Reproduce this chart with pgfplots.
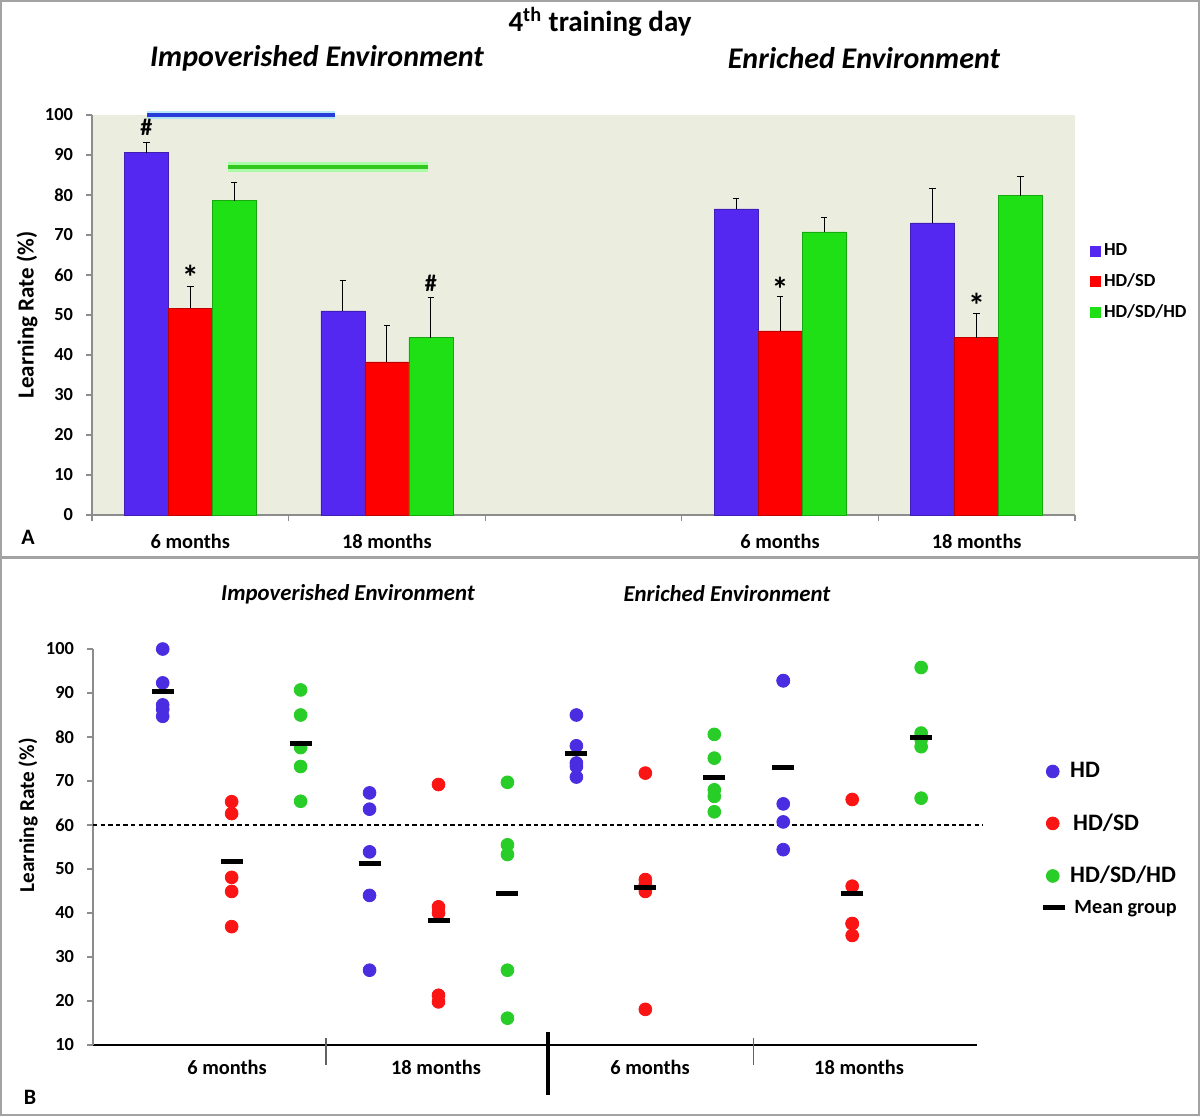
\documentclass[border=0pt]{standalone}
\usepackage{pgfplots}
\pgfplotsset{compat=1.18}
\usepackage{fontspec}
\setmainfont{Carlito}
\definecolor{hdb}{RGB}{84,40,240}
\definecolor{hdr}{RGB}{255,0,0}
\definecolor{hdg}{RGB}{30,224,20}
\definecolor{bgb}{RGB}{235,237,223}
\definecolor{dotb}{RGB}{75,45,225}
\definecolor{dotr}{RGB}{250,20,20}
\definecolor{dotg}{RGB}{40,205,40}
\definecolor{axg}{RGB}{140,140,140}
\definecolor{sigb}{RGB}{40,60,215}
\definecolor{sigg}{RGB}{50,200,30}
\begin{document}
\begin{tikzpicture}
% frames
\draw[axg!80, line width=0.8pt] (0.4pt,0.4pt) rectangle (599.6pt,557.6pt);
\draw[axg!80, line width=1.2pt] (0pt,279.3pt) -- (600pt,279.3pt);

% ---------------- Panel A ----------------
\begin{axis}[
  at={(46pt,300.5pt)}, anchor=south west, scale only axis,
  width=491.5pt, height=200pt,
  /pgf/number format/assume math mode=true,
  xmin=-0.5, xmax=4.5, ymin=0, ymax=100,
  axis lines=left, axis line style={-, axg, line width=0.6pt},
  axis background/.style={fill=bgb},
  ytick={0,10,...,100},
  xtick={-0.5,0.5,1.5,2.5,3.5,4.5}, xticklabels={},
  extra x ticks={0,1,3,4},
  extra x tick labels={6 months,18 months,6 months,18 months},
  extra x tick style={major tick length=0pt, xticklabel style={anchor=center, yshift=-13pt}},
  tick align=outside, major tick length=3pt, tick style={axg, line width=0.6pt},
  yticklabel style={font=\bfseries\fontsize{9.2}{10}\selectfont, xshift=-3pt},
  xticklabel style={font=\bfseries\fontsize{10.2}{12}\selectfont},
  ylabel={Learning Rate (\%)},
  ylabel style={font=\bfseries\fontsize{11.5}{13}\selectfont, at={(axis description cs:-0.066,0.5)}, anchor=center},
  clip=false,
  legend style={at={(1.0153,0.5825)}, anchor=west, draw=none, fill=none,
    font=\bfseries\fontsize{9.2}{11}\selectfont, row sep=4.6pt, inner sep=0pt,
    nodes={inner sep=1.5pt}},
  legend cell align=left,
]
\addplot[ybar, bar width=22pt, bar shift=0pt, fill=hdb, draw=hdb!75!black, line width=0.3pt,
  legend image code/.code={\fill[hdb] (0pt,-2.5pt) rectangle (5pt,2.5pt);},
  error bars/.cd, y dir=plus, y explicit,
  error bar style={black, line width=0.5pt},
  error mark options={rotate=90, mark size=1.6pt, black, line width=0.5pt}]
  coordinates {(-0.2238,90.6) +- (0,2.6) (0.7762,51.0) +- (0,7.6) (2.7762,76.5) +- (0,2.5) (3.7762,73.0) +- (0,8.5)};
\addlegendentry{HD}
\addplot[ybar, bar width=22pt, bar shift=0pt, fill=hdr, draw=hdr!75!black, line width=0.3pt,
  legend image code/.code={\fill[hdr] (0pt,-2.5pt) rectangle (5pt,2.5pt);},
  error bars/.cd, y dir=plus, y explicit,
  error bar style={black, line width=0.5pt},
  error mark options={rotate=90, mark size=1.6pt, black, line width=0.5pt}]
  coordinates {(0,51.7) +- (0,5.5) (1,38.25) +- (0,9.0) (3,46.0) +- (0,8.6) (4,44.3) +- (0,6.0)};
\addlegendentry{HD/SD}
\addplot[ybar, bar width=22pt, bar shift=0pt, fill=hdg, draw=hdg!75!black, line width=0.3pt,
  legend image code/.code={\fill[hdg] (0pt,-2.5pt) rectangle (5pt,2.5pt);},
  error bars/.cd, y dir=plus, y explicit,
  error bar style={black, line width=0.5pt},
  error mark options={rotate=90, mark size=1.6pt, black, line width=0.5pt}]
  coordinates {(0.2238,78.6) +- (0,4.6) (1.2238,44.3) +- (0,10.0) (3.2238,70.75) +- (0,3.5) (4.2238,79.8) +- (0,4.7)};
\addlegendentry{HD/SD/HD}
% significance lines
\addplot[forget plot, line width=4pt, cyan!35, opacity=0.8] coordinates {(-0.222,100) (0.736,100)};
\addplot[forget plot, line width=1.8pt, sigb] coordinates {(-0.222,100) (0.736,100)};
\addplot[forget plot, line width=5pt, green!40, opacity=0.8] coordinates {(0.192,86.9) (1.209,86.9)};
\addplot[forget plot, line width=2pt, sigg] coordinates {(0.192,86.9) (1.209,86.9)};
% annotations
\node[font=\bfseries\fontsize{12}{12}\selectfont] at (axis cs:-0.224,96.8) {\#};
\node[font=\bfseries\fontsize{17}{17}\selectfont] at (axis cs:0,59.5) {*};
\node[font=\bfseries\fontsize{12}{12}\selectfont] at (axis cs:1.224,58) {\#};
\node[font=\bfseries\fontsize{17}{17}\selectfont] at (axis cs:3,56.5) {*};
\node[font=\bfseries\fontsize{17}{17}\selectfont] at (axis cs:4,52.3) {*};
\end{axis}

% ---------------- Panel B ----------------
\begin{axis}[
  at={(46.5pt,35.5pt)}, anchor=south west, scale only axis,
  width=442pt, height=198pt,
  /pgf/number format/assume math mode=true,
  xmin=-1.011, xmax=11.81, ymin=10, ymax=100,
  axis lines=left,
  x axis line style={-, black, line width=0.6pt},
  y axis line style={-, axg, line width=0.6pt},
  ytick={10,20,...,100},
  xtick={0.933,3.964,7.068,10.1},
  xticklabels={6 months,18 months,6 months,18 months},
  x tick style={draw=none},
  y tick style={axg, line width=0.6pt},
  tick align=outside, major tick length=3pt,
  yticklabel style={font=\bfseries\fontsize{9.2}{10}\selectfont, xshift=-3pt},
  xticklabel style={font=\bfseries\fontsize{10.2}{12}\selectfont, anchor=center, yshift=-8pt},
  ylabel={Learning Rate (\%)},
  ylabel style={font=\bfseries\fontsize{10.6}{12}\selectfont, at={(axis description cs:-0.0735,0.58)}, anchor=center},
  clip=false,
  legend style={at={(1.078,0.558)}, anchor=west, draw=none, fill=none,
    font=\bfseries\fontsize{11.8}{13}\selectfont, row sep=13.5pt, inner sep=0pt,
    nodes={inner sep=1.5pt}},
  legend cell align=left,
]
\addplot[forget plot, black, line width=0.6pt, dash pattern=on 2.2pt off 1.6pt] coordinates {(-1.011,60) (11.9,60)};
\addplot[forget plot, axg!70!black, line width=0.6pt] coordinates {(2.369,11.6) (2.369,5.4)};
\addplot[forget plot, axg!70!black, line width=0.6pt] coordinates {(8.563,11.6) (8.563,5.4)};
\addplot[forget plot, black, line width=2pt] coordinates {(5.589,12.95) (5.589,-1.36)};
\addplot[only marks, mark=*, mark size=3.2pt, color=dotb, mark options={draw=none, fill=dotb}] coordinates {
  (0,100) (0,92.3) (0,87.3) (0,86.3) (0,84.7)
  (3,67.3) (3,63.6) (3,53.9) (3,44.0) (3,27.0)
  (6,85.0) (6,78.0) (6,74.1) (6,73.3) (6,70.9)
  (9,92.8) (9,92.8) (9,64.8) (9,60.7) (9,54.4)};
\addlegendentry{\hspace{4pt}HD}
\addplot[only marks, mark=*, mark size=3.2pt, color=dotr, mark options={draw=none, fill=dotr}] coordinates {
  (1,65.3) (1,62.6) (1,48.1) (1,44.9) (1,36.9)
  (4,69.2) (4,41.4) (4,40.0) (4,21.3) (4,19.8)
  (7,71.8) (7,47.6) (7,46.5) (7,44.9) (7,18.1)
  (10,65.8) (10,46.1) (10,37.6) (10,37.6) (10,34.9)};
\addlegendentry{\hspace{5.5pt}HD/SD}
\addplot[only marks, mark=*, mark size=3.2pt, color=dotg, mark options={draw=none, fill=dotg}] coordinates {
  (2,90.7) (2,85.0) (2,77.6) (2,73.3) (2,65.4)
  (5,69.7) (5,55.5) (5,53.3) (5,27.0) (5,16.1)
  (8,80.6) (8,75.2) (8,68.0) (8,66.5) (8,63.0)
  (11,95.8) (11,80.9) (11,79.4) (11,77.8) (11,66.1)};
\addlegendentry{\hspace{4pt}HD/SD/HD}
\addplot[forget plot, only marks, mark=-, mark size=5.5pt, black, mark options={line width=2.5pt}] coordinates {
  (0,90.4) (1,51.7) (2,78.6) (3,51.2) (4,38.3) (5,44.4)
  (6,76.2) (7,45.9) (8,70.7) (9,73.1) (10,44.4) (11,80.0)};
\end{axis}
% legend entry for the mean bars
\begin{axis}[
  at={(46.5pt,35.5pt)}, anchor=south west, scale only axis,
  width=442pt, height=198pt, hide axis,
  xmin=-1.011, xmax=11.81, ymin=10, ymax=100,
  legend style={at={(1.0747,0.346)}, anchor=west, draw=none, fill=none,
    font=\bfseries\fontsize{10.1}{12}\selectfont, inner sep=0pt, nodes={inner sep=1.5pt}},
]
\addlegendimage{only marks, mark=-, mark size=5.5pt, black, mark options={line width=2.5pt}}
\addlegendentry{\hspace{3pt}Mean group}
\end{axis}

% titles
\node[font=\bfseries\fontsize{14.5}{17}\selectfont] at (300pt,547pt) {4\textsuperscript{th} training day};
\node[font=\bfseries\itshape\fontsize{15}{17}\selectfont] at (158.5pt,529pt) {Impoverished Environment};
\node[font=\bfseries\itshape\fontsize{15}{17}\selectfont] at (432pt,529pt) {Enriched Environment};
\node[font=\bfseries\itshape\fontsize{11.4}{13}\selectfont] at (174pt,261pt) {Impoverished Environment};
\node[font=\bfseries\itshape\fontsize{11.4}{13}\selectfont] at (363.5pt,261pt) {Enriched Environment};
\node[font=\bfseries\fontsize{11}{13}\selectfont] at (14pt,289.5pt) {A};
\node[font=\bfseries\fontsize{11}{13}\selectfont] at (15pt,9.5pt) {B};
\pgfresetboundingbox
\path (0pt,0pt) rectangle (600pt,558pt);
\end{tikzpicture}
\end{document}
